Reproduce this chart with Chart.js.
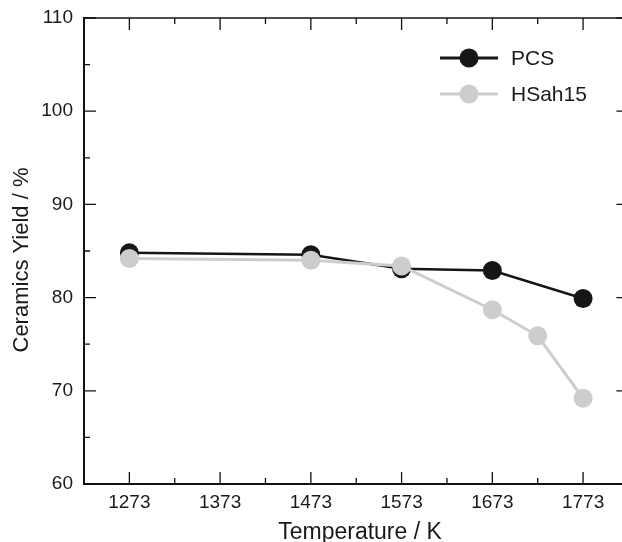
<!DOCTYPE html>
<html>
<head>
<meta charset="utf-8">
<script src="https://cdn.jsdelivr.net/npm/chart.js@4/dist/chart.umd.min.js"></script>
<style>
  html, body { margin: 0; padding: 0; background: #fff; overflow: hidden; }
</style>
</head>
<body>
<canvas id="c" width="622" height="542"></canvas>
<script>
// data
const seriesNames = ['PCS', 'HSah15'];
const pcsTemp = [1273, 1473, 1573, 1673, 1773];
const pcsYield = [84.8, 84.6, 83.1, 82.9, 79.9];
const hsahTemp = [1273, 1473, 1573, 1673, 1723, 1773];
const hsahYield = [84.2, 84.0, 83.4, 78.7, 75.9, 69.2];

const xTicks = [1273, 1373, 1473, 1573, 1673, 1773];
const xMinor = [1223, 1323, 1423, 1523, 1623, 1723, 1823];
const yTicks = [60, 70, 80, 90, 100, 110];
const yMinor = [65, 75, 85, 95, 105];

const black = '#161616';
const grey = '#cdcdcd';
const fontFamily = '"Liberation Sans", Arial, Helvetica, sans-serif';
const xMin = 1223;
const pxPerK = 0.9074;   // horizontal scale of the original plot

// inward ticks, frame, axis titles and legend
const framePlugin = {
  id: 'frame',
  afterDraw(chart) {
    const ctx = chart.ctx;
    const x = chart.scales.x, y = chart.scales.y;
    const L = chart.chartArea.left, T = chart.chartArea.top, B = chart.chartArea.bottom;
    const R = x.getPixelForValue(1823);
    ctx.save();
    ctx.strokeStyle = '#111';
    ctx.lineWidth = 1.5;
    ctx.beginPath();
    ctx.moveTo(L, T); ctx.lineTo(R, T);
    ctx.stroke();
    ctx.lineWidth = 2;
    ctx.beginPath();
    ctx.moveTo(L, T - 1); ctx.lineTo(L, B); ctx.lineTo(R, B);
    ctx.stroke();

    ctx.lineWidth = 1.3;
    ctx.beginPath();
    xTicks.forEach(v => {
      const px = x.getPixelForValue(v);
      ctx.moveTo(px, B); ctx.lineTo(px, B - 12);
      ctx.moveTo(px, T); ctx.lineTo(px, T + 12);
    });
    xMinor.forEach(v => {
      const px = x.getPixelForValue(v);
      ctx.moveTo(px, B); ctx.lineTo(px, B - 6);
      ctx.moveTo(px, T); ctx.lineTo(px, T + 6);
    });
    yTicks.forEach(v => {
      const py = y.getPixelForValue(v);
      ctx.moveTo(L, py); ctx.lineTo(L + 12, py);
      ctx.moveTo(R, py); ctx.lineTo(R - 12, py);
    });
    yMinor.forEach(v => {
      const py = y.getPixelForValue(v);
      ctx.moveTo(L, py); ctx.lineTo(L + 6, py);
      ctx.moveTo(R, py); ctx.lineTo(R - 6, py);
    });
    ctx.stroke();

    // axis titles
    ctx.fillStyle = '#1a1a1a';
    ctx.font = '23px ' + fontFamily;
    ctx.textAlign = 'center';
    ctx.textBaseline = 'alphabetic';
    ctx.fillText('Temperature / K', 360, 539);

    ctx.font = '22px ' + fontFamily;
    ctx.textBaseline = 'middle';
    ctx.translate(22, 260);
    ctx.rotate(-Math.PI / 2);
    ctx.fillText('Ceramics Yield / %', 0, 0);
    ctx.setTransform(1, 0, 0, 1, 0, 0);

    // legend
    const items = [[seriesNames[0], black, 58], [seriesNames[1], grey, 94]];
    items.forEach(([name, col, ly]) => {
      ctx.strokeStyle = col;
      ctx.lineWidth = 3;
      ctx.beginPath();
      ctx.moveTo(440, ly); ctx.lineTo(498, ly);
      ctx.stroke();
      ctx.fillStyle = col;
      ctx.beginPath();
      ctx.arc(469, ly, 9.5, 0, Math.PI * 2);
      ctx.fill();
      ctx.fillStyle = '#1a1a1a';
      ctx.font = '21px ' + fontFamily;
      ctx.textBaseline = 'middle';
      ctx.textAlign = 'left';
      ctx.fillText(name, 511, ly + 1);
    });
    ctx.restore();
  }
};

const chart = new Chart(document.getElementById('c'), {
  type: 'line',
  data: {
    datasets: [
      {
        label: seriesNames[1],
        data: hsahTemp.map((t, i) => ({ x: t, y: hsahYield[i] })),
        borderColor: grey,
        backgroundColor: grey,
        pointBackgroundColor: grey,
        pointBorderColor: grey,
        borderWidth: 3,
        pointRadius: 9.5,
        pointBorderWidth: 0,
        order: 1
      },
      {
        label: seriesNames[0],
        data: pcsTemp.map((t, i) => ({ x: t, y: pcsYield[i] })),
        borderColor: black,
        backgroundColor: black,
        pointBackgroundColor: black,
        pointBorderColor: black,
        borderWidth: 2.5,
        pointRadius: 9.5,
        pointBorderWidth: 0,
        order: 2
      }
    ]
  },
  options: {
    responsive: false,
    animation: false,
    events: [],
    layout: { padding: { top: 18, right: 0, left: 0, bottom: 0 } },
    plugins: { legend: { display: false }, tooltip: { enabled: false } },
    scales: {
      x: {
        type: 'linear',
        min: xMin,
        max: 1816,
        afterBuildTicks: s => { s.ticks = xTicks.map(v => ({ value: v })); },
        afterFit: s => { s.height = 58; s.paddingLeft = 0; s.paddingRight = 0; },
        grid: { display: false, drawTicks: false },
        border: { display: false },
        ticks: {
          color: '#1a1a1a',
          font: { family: fontFamily, size: 19 },
          padding: 7,
          maxRotation: 0,
          callback: v => String(v)
        },
        title: { display: false }
      },
      y: {
        min: 60,
        max: 110,
        afterBuildTicks: s => { s.ticks = yTicks.map(v => ({ value: v })); },
        afterFit: s => { s.width = 84; s.paddingTop = 0; s.paddingBottom = 0; },
        grid: { display: false, drawTicks: false },
        border: { display: false },
        ticks: {
          color: '#1a1a1a',
          font: { family: fontFamily, size: 19 },
          padding: 11
        },
        title: { display: false }
      }
    }
  },
  plugins: [framePlugin]
});

// keep the original K-per-pixel whatever width the layout leaves
const area = chart.chartArea;
chart.options.scales.x.max = xMin + (area.right - area.left) / pxPerK;
chart.update();
</script>
</body>
</html>
